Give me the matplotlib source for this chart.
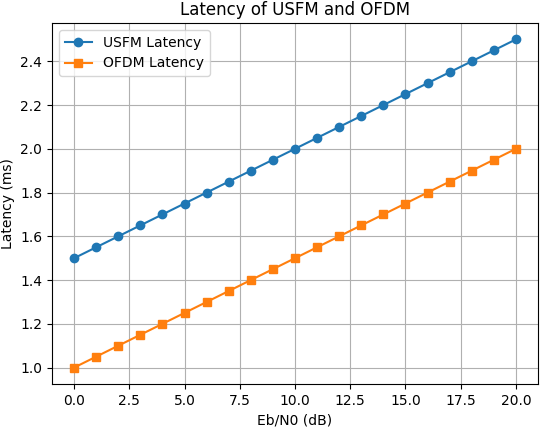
import matplotlib
matplotlib.use('Agg')
import matplotlib.pyplot as plt

# Eb/N0 values (dB)
ebn0 = [0, 1, 2, 3, 4, 5, 6, 7, 8, 9, 10, 11, 12, 13, 14, 15, 16, 17, 18, 19, 20]

# latency (ms)
usfm_latency = [1.50, 1.55, 1.60, 1.65, 1.70, 1.75, 1.80, 1.85, 1.90, 1.95, 2.00,
                2.05, 2.10, 2.15, 2.20, 2.25, 2.30, 2.35, 2.40, 2.45, 2.50]
ofdm_latency = [1.00, 1.05, 1.10, 1.15, 1.20, 1.25, 1.30, 1.35, 1.40, 1.45, 1.50,
                1.55, 1.60, 1.65, 1.70, 1.75, 1.80, 1.85, 1.90, 1.95, 2.00]

fig, ax = plt.subplots(figsize=(5.4, 4.28), dpi=100)
ax.plot(ebn0, usfm_latency, marker='o', label='USFM Latency')
ax.plot(ebn0, ofdm_latency, marker='s', label='OFDM Latency')
ax.set_title('Latency of USFM and OFDM')
ax.set_xlabel('Eb/N0 (dB)')
ax.set_ylabel('Latency (ms)')
ax.grid(True)
ax.legend(loc='upper left')

# axes box placed to match the reference (title sits close to the top edge)
fig.subplots_adjust(left=52/540, right=538/540, top=1-23/428, bottom=1-384/428)
fig.savefig('out.png', dpi=100)
